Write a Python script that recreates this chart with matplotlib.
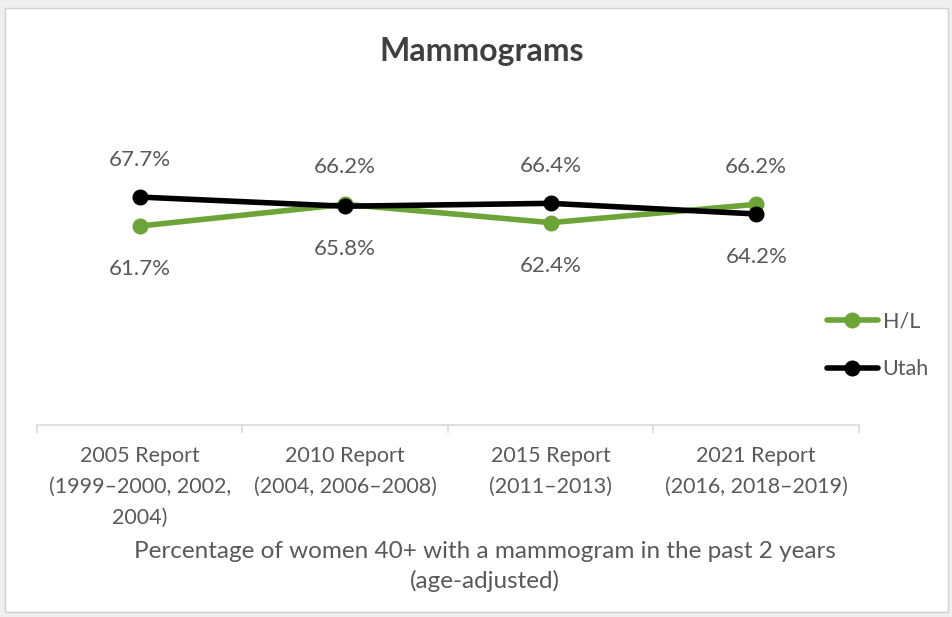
import matplotlib
matplotlib.use("Agg")
import matplotlib.pyplot as plt
from matplotlib.patches import Rectangle

# data
categories = ["2005 Report\n(1999\u20132000, 2002,\n2004)",
              "2010 Report\n(2004, 2006\u20132008)",
              "2015 Report\n(2011\u20132013)",
              "2021 Report\n(2016, 2018\u20132019)"]
hl_values = [61.7, 66.2, 62.4, 66.2]
utah_values = [67.7, 65.8, 66.4, 64.2]
# which label goes above the point (True) or below (False)
hl_above = [False, True, False, True]
utah_above = [True, False, True, False]

GREEN = "#6CA437"
TEXT = "#595959"
plt.rcParams['font.family'] = ['Lato', 'DejaVu Sans']

W, H = 953, 617
fig = plt.figure(figsize=(W / 100, H / 100), dpi=100)
fig.patch.set_facecolor("#efefef")
fig.patches.append(Rectangle((5 / W, 1 - 612 / H), 943 / W, 604 / H,
                             transform=fig.transFigure, facecolor="white",
                             edgecolor="#d0d0d0", linewidth=1, zorder=-5))

ax = fig.add_axes([37 / W, 1 - 425 / H, 822 / W, 325 / H])
ax.set_facecolor("none")
x = list(range(len(categories)))

ax.plot(x, hl_values, color=GREEN, lw=4.0, marker="o", ms=10.5,
        label="H/L", zorder=3, solid_capstyle="round")
ax.plot(x, utah_values, color="black", lw=4.0, marker="o", ms=10.5,
        label="Utah", zorder=4, solid_capstyle="round")

for vals, above in ((hl_values, hl_above), (utah_values, utah_above)):
    for xi, v, up in zip(x, vals, above):
        ax.annotate(f"{v:.1f}%", (xi, v), xytext=(0, 27 if up else -31),
                    textcoords="offset points", ha="center", va="center",
                    fontsize=16, color=TEXT)

ax.set_xlim(-0.5, len(categories) - 0.5)
ax.set_ylim(20.5, 87.8)
ax.set_yticks([])
for s in ("top", "right", "left"):
    ax.spines[s].set_visible(False)
ax.spines["bottom"].set_color("#d9d9d9")
ax.spines["bottom"].set_linewidth(1.2)

ax.set_xticks(x)
ax.set_xticklabels(categories, fontsize=15.5, color=TEXT, linespacing=1.68)
ax.tick_params(axis="x", which="major", length=0, pad=15)
ax.set_xticks([i - 0.5 for i in range(len(categories) + 1)], minor=True)
ax.tick_params(axis="x", which="minor", length=6, color="#d9d9d9", width=1.2)

fig.text(485 / W, 1 - 566.5 / H,
         "Percentage of women 40+ with a mammogram in the past 2 years\n(age-adjusted)",
         ha="center", va="center", fontsize=17.5, color=TEXT, linespacing=1.48)

fig.text(482 / W, 1 - 52 / H, "Mammograms", ha="center", va="center",
         fontsize=23, fontweight="bold", color="#404040")

leg = ax.legend(loc="center left", bbox_to_anchor=(781 / 822, 0.245),
                frameon=False, fontsize=15.5, handlelength=2.4,
                labelspacing=1.3, handletextpad=0.2, borderaxespad=0)
for t in leg.get_texts():
    t.set_color(TEXT)

fig.savefig("out.png", dpi=100)
